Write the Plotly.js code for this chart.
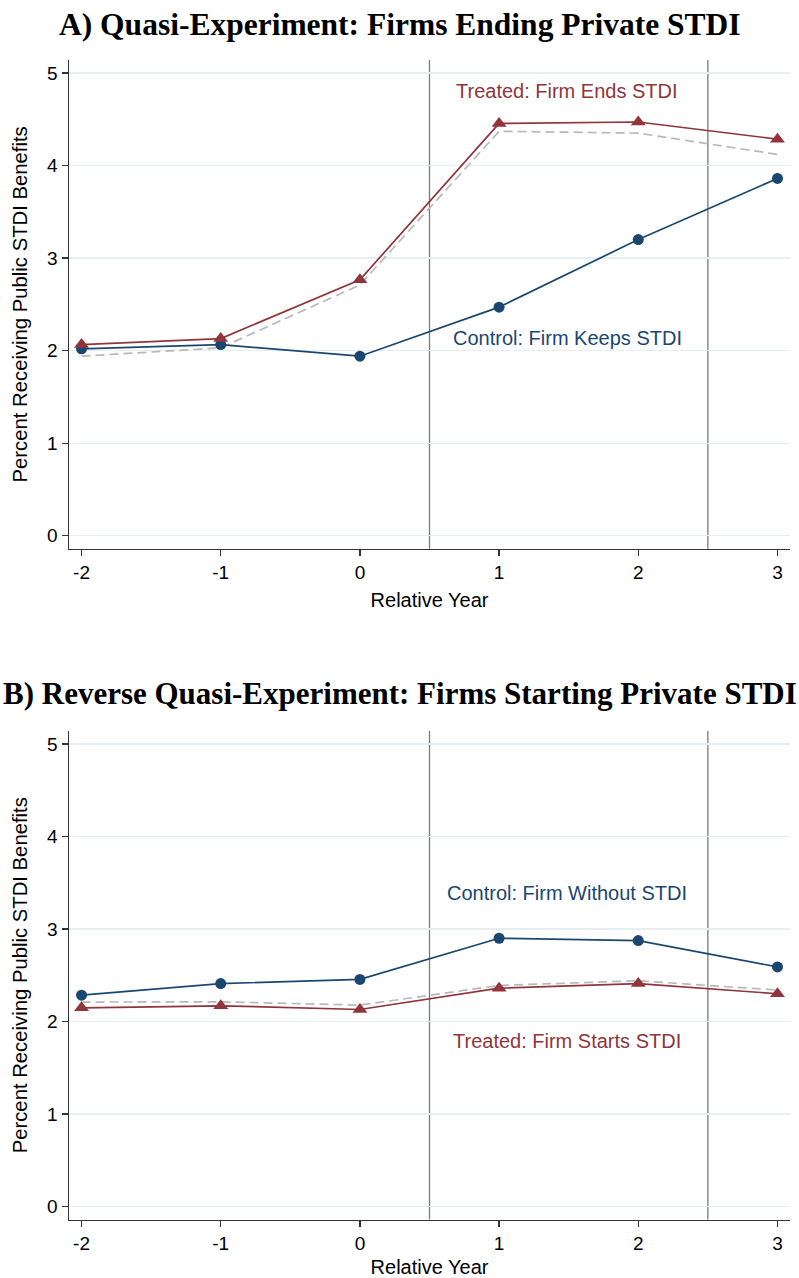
<!DOCTYPE html>
<html>
<head>
<meta charset="utf-8">
<script src="https://cdn.plot.ly/plotly-3.0.1.min.js"></script>
<style>html,body{margin:0;padding:0;background:#fff;}</style>
</head>
<body>
<div id="chart" style="width:799px;height:1278px;"></div>
<script>
// ---- data ----
const relYears = [-2, -1, 0, 1, 2, 3];
const xTickLabels = ['-2', '-1', '0', '1', '2', '3'];
const yTickVals = [0, 1, 2, 3, 4, 5];
const yTickLabels = ['0', '1', '2', '3', '4', '5'];
const eventLines = [0.5, 2.5];

// Panel A: firms ending private STDI
const panelAControl = [2.02, 2.065, 1.94, 2.47, 3.20, 3.86];
const panelATreated = [2.065, 2.13, 2.765, 4.455, 4.47, 4.285];
const panelADashed  = [1.94, 2.03, 2.71, 4.37, 4.35, 4.12];

// Panel B: firms starting private STDI
const panelBControl = [2.285, 2.41, 2.455, 2.90, 2.875, 2.59];
const panelBTreated = [2.148, 2.17, 2.13, 2.36, 2.41, 2.30];
const panelBDashed  = [2.21, 2.213, 2.177, 2.39, 2.44, 2.34];

const titleA = 'A) Quasi-Experiment: Firms Ending Private STDI';
const titleB = 'B) Reverse Quasi-Experiment: Firms Starting Private STDI';
const yTitle = 'Percent Receiving Public STDI Benefits';
const xTitle = 'Relative Year';

// ---- styling ----
const NAVY = '#1A476F';
const MAROON = '#90353B';
const DASHGRAY = '#B8B8B8';
const AXISCOL = '#333333';
const GRIDCOL = '#E6EEF1';
const SANS = 'Liberation Sans, Arial, sans-serif';
const SERIF = 'Liberation Serif, Times New Roman, serif';

function dashed(x, y, xa, ya) {
  return {x: x, y: y, xaxis: xa, yaxis: ya, type: 'scatter', mode: 'lines',
    line: {color: DASHGRAY, width: 1.7, dash: '9px,5px'}, hoverinfo: 'skip'};
}
function ctrl(x, y, xa, ya) {
  return {x: x, y: y, xaxis: xa, yaxis: ya, type: 'scatter', mode: 'lines+markers',
    line: {color: NAVY, width: 1.7}, marker: {color: NAVY, size: 11, symbol: 'circle'}};
}
function treat(x, y, xa, ya) {
  return {x: x, y: y, xaxis: xa, yaxis: ya, type: 'scatter', mode: 'lines+markers',
    line: {color: MAROON, width: 1.7}, marker: {color: MAROON, size: 13, symbol: 'triangle-up'}};
}

const data = [
  dashed(relYears, panelADashed, 'x', 'y'),
  ctrl(relYears, panelAControl, 'x', 'y'),
  treat(relYears, panelATreated, 'x', 'y'),
  dashed(relYears, panelBDashed, 'x2', 'y2'),
  ctrl(relYears, panelBControl, 'x2', 'y2'),
  treat(relYears, panelBTreated, 'x2', 'y2')
];

function xAxis(anchor) {
  return {
    anchor: anchor, domain: [0, 1], range: [-2.09, 3.09],
    tickmode: 'array', tickvals: relYears, ticktext: xTickLabels,
    ticks: 'outside', ticklen: 6, tickwidth: 1.3, tickcolor: AXISCOL,
    showline: true, linecolor: AXISCOL, linewidth: 1.5,
    showgrid: false, zeroline: false, automargin: false,
    tickfont: {family: SANS, size: 19, color: '#000'},
    title: {text: xTitle, font: {family: SANS, size: 20, color: '#000'}, standoff: 11}
  };
}
function yAxis(anchor, domain) {
  return {
    anchor: anchor, domain: domain, range: [-0.14, 5.14],
    tickmode: 'array', tickvals: yTickVals, ticktext: yTickLabels,
    ticks: 'outside', ticklen: 6, tickwidth: 1.3, tickcolor: AXISCOL,
    showline: true, linecolor: AXISCOL, linewidth: 1.5,
    showgrid: true, gridcolor: GRIDCOL, gridwidth: 1.2, zeroline: false, automargin: false,
    tickfont: {family: SANS, size: 19, color: '#000'},
    title: {text: yTitle, font: {family: SANS, size: 20.3, color: '#000'}, standoff: 14}
  };
}

const shapes = [];
[['x', 'y domain'], ['x2', 'y2 domain']].forEach(function (refs) {
  eventLines.forEach(function (v) {
    shapes.push({type: 'line', xref: refs[0], yref: refs[1], x0: v, x1: v, y0: 0, y1: 1,
      line: {color: '#7A7A7A', width: 1.3}, layer: 'below'});
  });
});

const titleX = (399.5 - 69) / 721;
const annotations = [
  {text: titleA, xref: 'paper', yref: 'paper', x: titleX, y: 1 - 24 / 1278, xanchor: 'center', yanchor: 'middle',
   showarrow: false, font: {family: SERIF, size: 31.5, color: '#000', weight: 'bold'}},
  {text: titleB, xref: 'paper', yref: 'paper', x: titleX, y: 1 - 694 / 1278, xanchor: 'center', yanchor: 'middle',
   showarrow: false, font: {family: SERIF, size: 31, color: '#000', weight: 'bold'}},
  {text: 'Treated: Firm Ends STDI', xref: 'x', yref: 'y', x: 1.49, y: 4.80, showarrow: false,
   xanchor: 'center', yanchor: 'middle', font: {family: SANS, size: 20, color: MAROON}},
  {text: 'Control: Firm Keeps STDI', xref: 'x', yref: 'y', x: 1.49, y: 2.14, showarrow: false,
   xanchor: 'center', yanchor: 'middle', font: {family: SANS, size: 20, color: NAVY}},
  {text: 'Control: Firm Without STDI', xref: 'x2', yref: 'y2', x: 1.49, y: 3.39, showarrow: false,
   xanchor: 'center', yanchor: 'middle', font: {family: SANS, size: 20, color: NAVY}},
  {text: 'Treated: Firm Starts STDI', xref: 'x2', yref: 'y2', x: 1.49, y: 1.79, showarrow: false,
   xanchor: 'center', yanchor: 'middle', font: {family: SANS, size: 20, color: MAROON}}
];

const layout = {
  width: 799, height: 1278,
  margin: {l: 69, r: 9, t: 0, b: 0, pad: 0},
  paper_bgcolor: '#fff', plot_bgcolor: '#fff',
  showlegend: false,
  xaxis: xAxis('y'),
  yaxis: yAxis('x', [(1278 - 548.7) / 1278, (1278 - 60) / 1278]),
  xaxis2: xAxis('y2'),
  yaxis2: yAxis('x2', [(1278 - 1219.5) / 1278, (1278 - 731) / 1278]),
  shapes: shapes,
  annotations: annotations
};

Plotly.newPlot('chart', data, layout, {displayModeBar: false, staticPlot: true});
</script>
</body>
</html>
